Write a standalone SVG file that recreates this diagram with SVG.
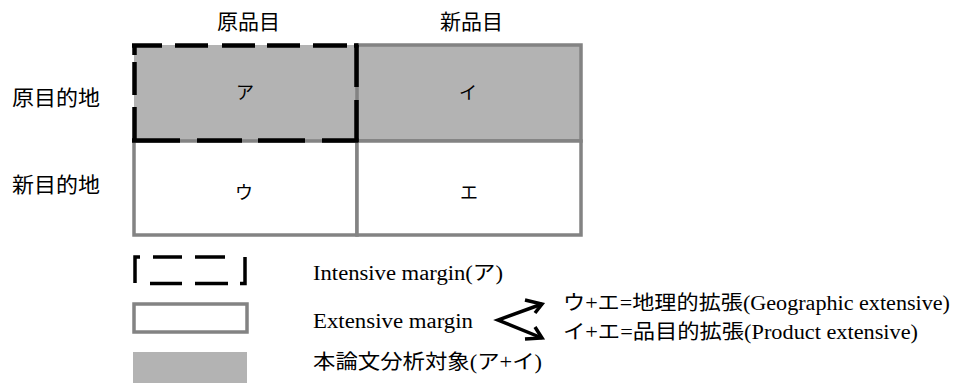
<svg xmlns="http://www.w3.org/2000/svg" width="958" height="383" viewBox="0 0 958 383">
<style>
  text { font-family: "Liberation Serif", "Noto Sans CJK JP", serif; fill: #000; }
  .hdr { font-size: 21px; }
  .cell { font-size: 18px; text-anchor: middle; }
  .lg { font-size: 20px; }
  .gray { stroke: #838383; stroke-width: 3.5; }
  .dash { fill: none; stroke: #000; stroke-width: 4.5; }
  .lgd { fill: none; stroke: #000; stroke-width: 3.5; }
</style>
<g id="headers">
  <text class="hdr" x="217" y="29" textLength="63" lengthAdjust="spacingAndGlyphs">原品目</text>
  <text class="hdr" x="440" y="29" textLength="63" lengthAdjust="spacingAndGlyphs">新品目</text>
  <text class="hdr" x="12" y="105" textLength="88" lengthAdjust="spacingAndGlyphs">原目的地</text>
  <text class="hdr" x="12" y="192" textLength="88" lengthAdjust="spacingAndGlyphs">新目的地</text>
</g>
<g id="cell-a">
  <rect x="134" y="45" width="223" height="96" fill="#b3b3b3"/>
  <text class="cell" x="245" y="99">ア</text>
</g>
<g id="cell-i">
  <rect x="357" y="45" width="224" height="96" fill="#b3b3b3" class="gray"/>
  <text class="cell" x="468" y="99">イ</text>
</g>
<g id="cell-u">
  <rect x="134" y="141" width="223" height="94" fill="#fff" class="gray"/>
  <text class="cell" x="244" y="199">ウ</text>
</g>
<g id="cell-e">
  <rect x="357" y="141" width="224" height="94" fill="#fff" class="gray"/>
  <text class="cell" x="469" y="199">エ</text>
</g>
<g id="intensive-outline">
  <path class="dash" d="M132,45.5 H162 M175,45.5 H208 M222,45.5 H255 M267,45.5 H300 M313,45.5 H347 M354,45.5 H358.5"/>
  <path class="dash" d="M356.5,45 V87 M356.5,100 V142"/>
  <path class="dash" d="M132,140.5 H180 M197,140.5 H242 M258,140.5 H305 M322,140.5 H358.5"/>
  <path class="dash" d="M134.5,44 V55 M134.5,62 V95 M134.5,107 V142"/>
</g>
<g id="legend-intensive">
  <path class="lgd" d="M140,257 H135 V283"/>
  <path class="lgd" d="M153,257 H182 M195,257 H225 M150,283.5 H182 M195,283.5 H228"/>
  <path class="lgd" d="M245,257 V283.5 H240"/>
  <text class="lg" x="313" y="280" textLength="190" lengthAdjust="spacingAndGlyphs">Intensive margin(ア)</text>
</g>
<g id="legend-extensive">
  <rect x="134" y="304" width="113" height="28" fill="#fff" class="gray"/>
  <text class="lg" x="313" y="328" textLength="160" lengthAdjust="spacingAndGlyphs">Extensive margin</text>
</g>
<g id="legend-scope">
  <rect x="133" y="352" width="114" height="31" fill="#b3b3b3"/>
  <text class="lg" x="313" y="369" textLength="229" lengthAdjust="spacingAndGlyphs">本論文分析対象(ア+イ)</text>
</g>
<g id="connectors" fill="none" stroke="#000" stroke-width="3.5" stroke-linejoin="miter">
  <path d="M542,304 L498,320 L542,338"/>
  <path d="M525,300 L542,304 L535,313"/>
  <path d="M535,327 L542,338 L525,339"/>
</g>
<g id="extensive-types">
  <text class="lg" x="563" y="310" textLength="387" lengthAdjust="spacingAndGlyphs">ウ+エ=地理的拡張(Geographic extensive)</text>
  <text class="lg" x="563" y="339" textLength="355" lengthAdjust="spacingAndGlyphs">イ+エ=品目的拡張(Product extensive)</text>
</g>
</svg>
